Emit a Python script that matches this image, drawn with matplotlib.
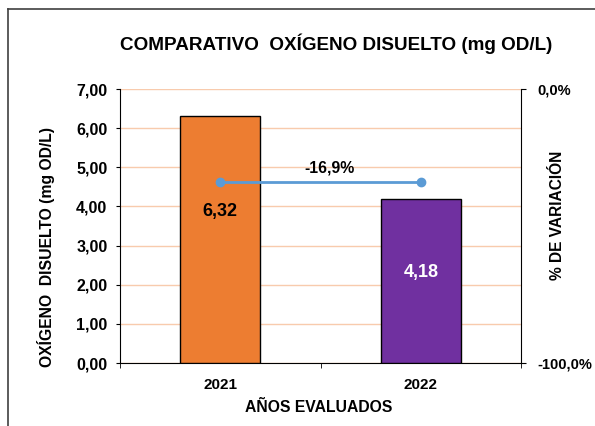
import matplotlib.pyplot as plt
from matplotlib.ticker import FixedLocator

plt.rcParams['font.family'] = ['Liberation Sans', 'DejaVu Sans']
plt.rcParams['font.weight'] = 'bold'

anios = ["2021", "2022"]
oxigeno = [6.32, 4.18]
variacion = [-33.9, -33.9]   # posicion de la linea en el eje secundario
etiqueta_var = "-16,9%"
colores = ["#ED7D31", "#7030A0"]

fig = plt.figure(figsize=(5.95, 4.26), dpi=100)
ax = fig.add_axes([120/595, 63/426, 401/595, 274/426])

x = [0, 1]
ax.bar(x, oxigeno, width=0.4, color=colores, edgecolor="black", linewidth=1, zorder=3)
ax.set_xlim(-0.5, 1.5)
ax.set_ylim(0, 7)
ax.set_yticks(range(8))
ax.set_yticklabels([("%.2f" % v).replace(".", ",") for v in range(8)])
ax.set_xticks(x)
ax.set_xticklabels(anios, fontsize=11)
ax.xaxis.set_minor_locator(FixedLocator([-0.5, 0.5, 1.5]))
ax.tick_params(axis="x", which="major", length=0, pad=11)
ax.tick_params(axis="x", which="minor", length=3.5, direction="out")
ax.tick_params(axis="y", length=3, direction="out", labelsize=11.5, pad=6)
ax.grid(axis="y", color="#F8CBAD", linewidth=1, zorder=0)
for s in ["top", "right"]:
    ax.spines[s].set_visible(False)

# etiquetas de las barras
ax.text(0, 3.87, "6,32", ha="center", va="center", fontsize=13, color="black", zorder=4)
ax.text(1, 2.3, "4,18", ha="center", va="center", fontsize=13, color="white", zorder=4)

ax2 = ax.twinx()
ax2.set_ylim(-100, 0)
ax2.plot(x, variacion, color="#5B9BD5", linewidth=2, marker="o", markersize=6, zorder=5)
ax2.set_yticks([-100, 0])
ax2.set_yticklabels(["-100,0%", "0,0%"], fontsize=10.5)
ax2.tick_params(axis="y", length=3.5, direction="out", pad=8)
for s in ["top", "left", "bottom"]:
    ax2.spines[s].set_visible(False)
ax2.text(0.545, -29, etiqueta_var, ha="center", va="center", fontsize=11.4)

fig.text(336/595, 1 - 44/426, "COMPARATIVO  OXÍGENO DISUELTO (mg OD/L)", ha="center", va="center", fontsize=13.6)
fig.text(46/595, 1 - 247/426, "OXÍGENO  DISUELTO (mg OD/L)", ha="center", va="center", rotation=90, fontsize=11.3)
fig.text(558/595, 1 - 215/426, "% DE VARIACIÓN", ha="center", va="center", rotation=90, fontsize=11.2)
fig.text(319/595, 1 - 407/426, "AÑOS EVALUADOS", ha="center", va="center", fontsize=11.3)

# marco exterior
fig.add_artist(plt.Line2D([7.5/595, 7.5/595], [0, 1 - 8.5/426], color="#404040", linewidth=1.2, transform=fig.transFigure))
fig.add_artist(plt.Line2D([7.5/595, 1], [1 - 8.5/426, 1 - 8.5/426], color="#404040", linewidth=1.2, transform=fig.transFigure))

fig.savefig("out.png", dpi=100)
